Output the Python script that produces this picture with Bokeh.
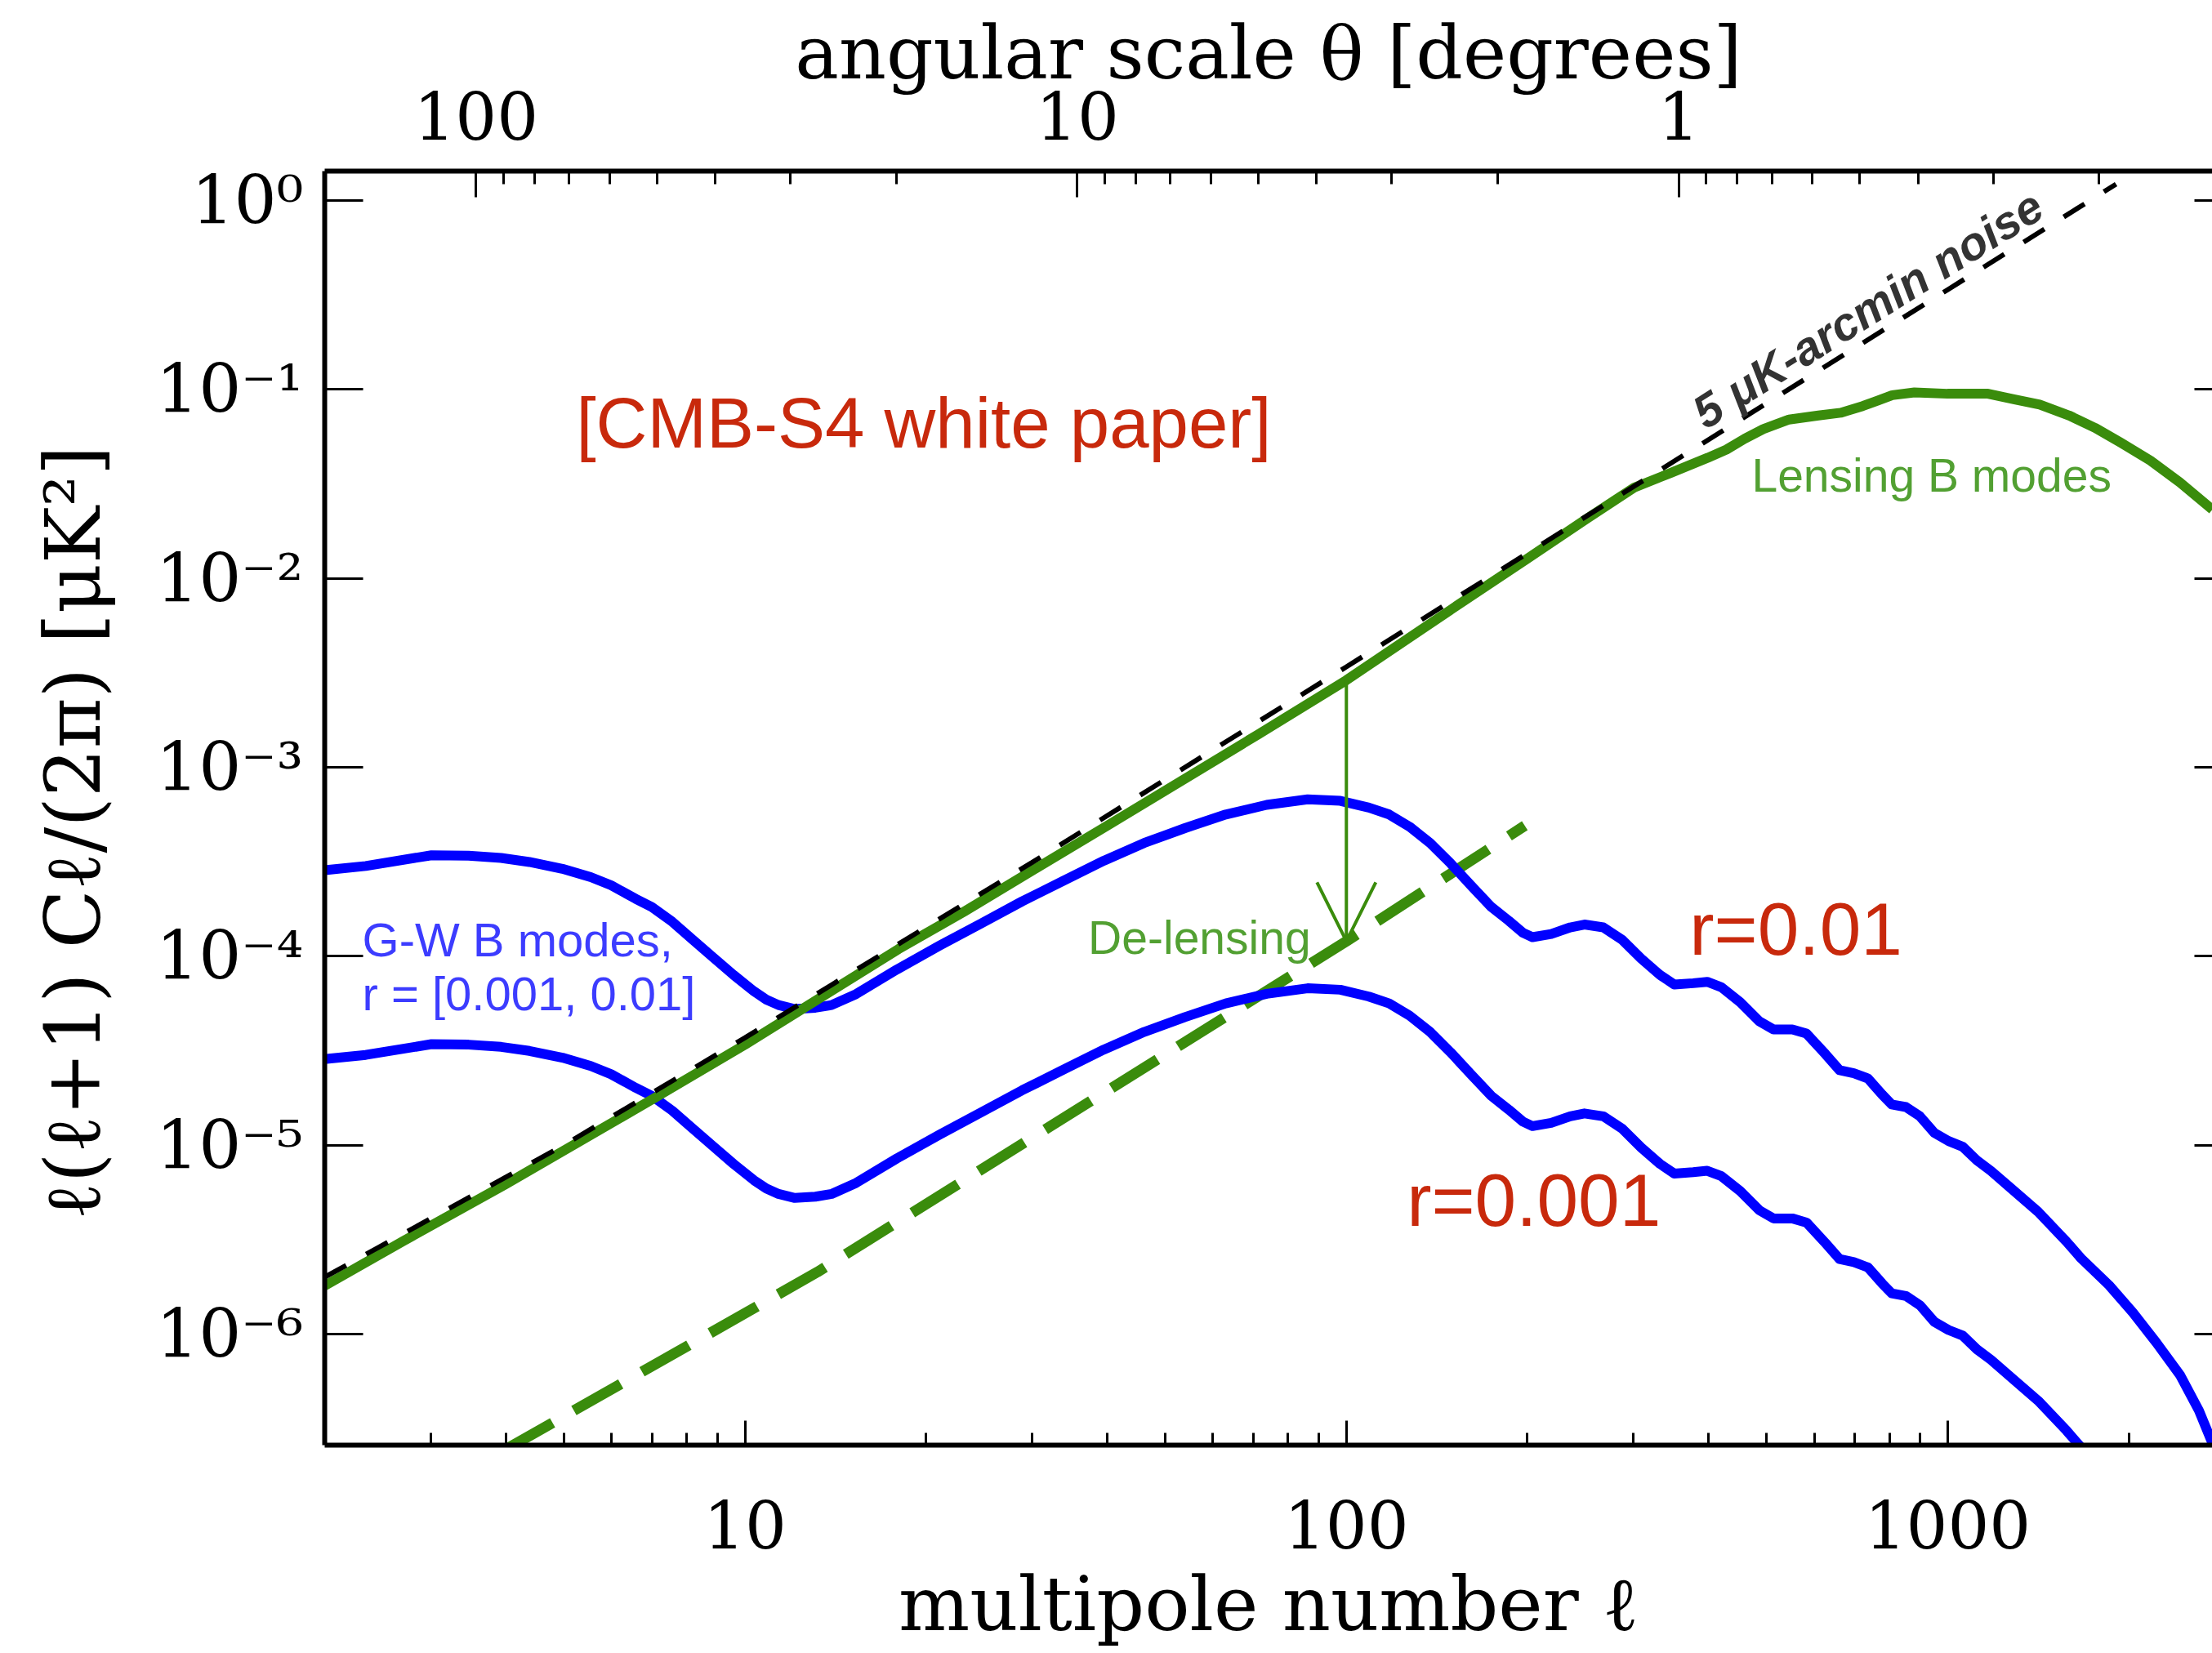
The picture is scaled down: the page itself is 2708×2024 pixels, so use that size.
from bokeh.plotting import figure
from bokeh.models import LogAxis, FixedTicker, Range1d, Arrow, OpenHead, Label
from bokeh.embed import file_html
from bokeh.resources import INLINE

# ---------------- data ----------------
# tensor (gravitational-wave) B modes, r = 0.01
ell_gw = [2.0, 2.34, 3.01, 3.47, 3.93, 4.38, 4.97, 5.54, 5.99, 6.58, 7.0, 7.57, 8.19, 8.85,
          9.57, 10.35, 10.85, 11.37, 12.1, 13.09, 13.93, 15.3, 17.88, 21.1, 24.7, 28.9,
          33.7, 39.5, 46.1, 53.9, 63.0, 73.7, 86.2, 97.7, 109, 117.8, 127.4, 137.8, 149,
          161.1, 174.2, 186.2, 196.6, 203.9, 219.1, 235.6, 248.8, 267.4, 287.5, 309.2,
          332.3, 351, 377.3, 398.2, 420.5, 451.9, 486, 513.2, 551.5, 582.3, 626.1, 661,
          698, 737, 778, 807, 852, 899, 950, 1003, 1059, 1118, 1180, 1269, 1414, 1576,
          1665, 1855, 2031, 2223, 2435, 2617, 2755]
gw_r01 = [2.85e-4, 3.0e-4, 3.42e-4, 3.40e-4, 3.31e-4, 3.15e-4, 2.90e-4, 2.62e-4, 2.37e-4,
          2.01e-4, 1.82e-4, 1.52e-4, 1.22e-4, 9.85e-5, 7.95e-5, 6.51e-5, 5.89e-5, 5.51e-5,
          5.25e-5, 5.33e-5, 5.51e-5, 6.3e-5, 8.49e-5, 1.14e-4, 1.49e-4, 1.95e-4, 2.49e-4,
          3.2e-4, 3.97e-4, 4.76e-4, 5.62e-4, 6.32e-4, 6.76e-4, 6.64e-4, 6.11e-4, 5.62e-4,
          4.84e-4, 3.97e-4, 3.1e-4, 2.37e-4, 1.82e-4, 1.54e-4, 1.33e-4, 1.26e-4, 1.31e-4,
          1.42e-4, 1.47e-4, 1.42e-4, 1.22e-4, 9.7e-5, 7.95e-5, 7.07e-5, 7.19e-5, 7.31e-5,
          6.84e-5, 5.7e-5, 4.52e-5, 4.09e-5, 4.09e-5, 3.89e-5, 3.03e-5, 2.49e-5, 2.40e-5,
          2.25e-5, 1.85e-5, 1.64e-5, 1.59e-5, 1.42e-5, 1.16e-5, 1.05e-5, 9.8e-6, 8.3e-6,
          7.3e-6, 5.97e-6, 4.43e-6, 3.08e-6, 2.52e-6, 1.81e-6, 1.30e-6, 9.0e-7, 6.05e-7,
          3.93e-7, 2.64e-7]

# tensor B modes, r = 0.001
ell_gw_low = [2.0, 2.34, 3.01, 3.47, 3.93, 4.38, 4.97, 5.54, 5.99, 6.58, 7.0, 7.57, 8.19,
              8.85, 9.57, 10.35, 10.85, 11.37, 12.1, 13.09, 13.93, 15.3, 17.88, 21.1, 24.7,
              28.9, 33.7, 39.5, 46.1, 53.9, 63.0, 73.7, 86.2, 97.7, 109, 117.8, 127.4, 137.8,
              149, 161.1, 174.2, 186.2, 196.6, 203.9, 219.1, 235.6, 248.8, 267.4, 287.5,
              309.2, 332.3, 351, 377.3, 398.2, 420.5, 451.9, 486, 513.2, 551.5, 582.3,
              626.1, 661, 698, 737, 778, 807, 852, 899, 950, 1003, 1059, 1118, 1180, 1269,
              1414, 1576, 1665, 1855]
gw_r001 = [2.85e-5, 3.0e-5, 3.42e-5, 3.40e-5, 3.31e-5, 3.15e-5, 2.90e-5, 2.62e-5, 2.37e-5,
           2.01e-5, 1.82e-5, 1.52e-5, 1.22e-5, 9.85e-6, 7.95e-6, 6.51e-6, 5.89e-6, 5.51e-6,
           5.25e-6, 5.33e-6, 5.51e-6, 6.3e-6, 8.49e-6, 1.14e-5, 1.49e-5, 1.95e-5, 2.49e-5,
           3.2e-5, 3.97e-5, 4.76e-5, 5.62e-5, 6.32e-5, 6.76e-5, 6.64e-5, 6.11e-5, 5.62e-5,
           4.84e-5, 3.97e-5, 3.1e-5, 2.37e-5, 1.82e-5, 1.54e-5, 1.33e-5, 1.26e-5, 1.31e-5,
           1.42e-5, 1.47e-5, 1.42e-5, 1.22e-5, 9.7e-6, 7.95e-6, 7.07e-6, 7.19e-6, 7.31e-6,
           6.84e-6, 5.7e-6, 4.52e-6, 4.09e-6, 4.09e-6, 3.89e-6, 3.03e-6, 2.49e-6, 2.40e-6,
           2.25e-6, 1.85e-6, 1.64e-6, 1.59e-6, 1.42e-6, 1.16e-6, 1.05e-6, 9.8e-7, 8.3e-7,
           7.3e-7, 5.97e-7, 4.43e-7, 3.08e-7, 2.52e-7, 1.81e-7]

# lensing B modes
ell_lens = [2, 2.7, 4, 7, 10, 18, 23.2, 40, 71.3, 100, 150, 200, 250, 301, 346.7, 399.2,
            428.5, 459.7, 493.5, 544.5, 609.5, 663.6, 722.2, 764.1, 808.5, 880, 999, 1167,
            1288, 1422, 1592, 1757, 1940, 2172, 2432, 2755]
lens_bb = [1.8e-6, 3.1e-6, 6.2e-6, 1.74e-5, 3.4e-5, 1.09e-4, 1.73e-4, 4.9e-4, 1.49e-3,
           2.89e-3, 6.9e-3, 1.27e-2, 2.05e-2, 3.02e-2, 3.62e-2, 4.35e-2, 4.8e-2, 5.48e-2,
           6.16e-2, 6.92e-2, 7.27e-2, 7.52e-2, 8.16e-2, 8.72e-2, 9.32e-2, 9.64e-2, 9.48e-2,
           9.48e-2, 8.87e-2, 8.3e-2, 7.27e-2, 6.26e-2, 5.22e-2, 4.2e-2, 3.22e-2, 2.31e-2]

# 5 uK-arcmin white noise
ell_noise = [2, 5, 10, 30, 100, 300, 1000, 1905]
noise_5uk = [2.0e-6, 1.0e-5, 3.7e-5, 3.13e-4, 3.4e-3, 3.05e-2, 0.337, 1.22]

# residual lensing after de-lensing
ell_delens = [4.0, 13.2, 100, 198]
delensed = [2.45e-7, 2.13e-6, 1.2e-4, 4.9e-4]

# de-lensing arrow (from lensing curve down to de-lensed curve at ell = 100)
arrow_ell = 100
arrow_from = 2.89e-3
arrow_to = 1.2e-4

# axes
x_ticks = [10, 100, 1000]
x_tick_labels = ["10", "100", "1000"]
x_minor = [3, 4, 5, 6, 7, 8, 9, 20, 30, 40, 50, 60, 70, 80, 90,
           200, 300, 400, 500, 600, 700, 800, 900, 2000]
y_ticks = [1e-6, 1e-5, 1e-4, 1e-3, 1e-2, 1e-1, 1.0]
y_tick_labels = ["10⁻⁶", "10⁻⁵", "10⁻⁴", "10⁻³", "10⁻²", "10⁻¹", "10⁰"]
theta_major = [100, 10, 1]
theta_labels = ["100", "10", "1"]
theta_minor = [90, 80, 70, 60, 50, 40, 30, 20, 9, 8, 7, 6, 5, 4, 3, 2,
               0.9, 0.8, 0.7, 0.6, 0.5, 0.4, 0.3, 0.2]
ELL_PER_DEGREE = 357.0   # ell corresponding to theta = 1 degree on the top axis

# ---------------- styling ----------------
GREEN = "#3a8c0c"
GREEN_TXT = "#52a032"
BLUE = "#0000ff"
BLUE_TXT = "#3c3cff"
RED = "#c8290c"
SERIF = "DejaVu Serif"
SANS = "Liberation Sans"

p = figure(width=2708, height=2024, x_axis_type="log", y_axis_type="log",
           x_range=Range1d(2.0, 2755), y_range=Range1d(2.58e-7, 1.43),
           output_backend="svg", toolbar_location=None,
           min_border_left=397, min_border_right=0, min_border_top=209,
           min_border_bottom=255)
p.outline_line_color = None
p.xgrid.visible = False
p.ygrid.visible = False
p.background_fill_color = "white"
p.border_fill_color = "white"


def style_axis(ax, tick_in, minor_in):
    ax.axis_line_width = 6
    ax.axis_line_color = "black"
    ax.major_tick_in = tick_in
    ax.major_tick_out = 0
    ax.minor_tick_in = minor_in
    ax.minor_tick_out = 0
    ax.major_tick_line_width = 3
    ax.minor_tick_line_width = 3
    ax.major_label_text_font = SERIF
    ax.major_label_text_color = "black"
    ax.axis_label_text_font = SERIF
    ax.axis_label_text_font_style = "normal"
    ax.axis_label_text_color = "black"


xa = p.xaxis[0]
xa.ticker = FixedTicker(ticks=x_ticks, minor_ticks=x_minor)
xa.major_label_overrides = dict(zip(x_ticks, x_tick_labels))
style_axis(xa, 30, 15)
xa.major_label_text_font_size = "80px"
xa.major_label_standoff = 67
xa.axis_label = "multipole number ℓ"
xa.axis_label_text_font_size = "92px"
xa.axis_label_standoff = 12

ya = p.yaxis[0]
ya.ticker = FixedTicker(ticks=y_ticks, minor_ticks=[])
ya.major_label_overrides = dict(zip(y_ticks, y_tick_labels))
style_axis(ya, 47, 0)
ya.major_label_text_font_size = "82px"
ya.major_label_standoff = 26
ya.axis_label = "ℓ(ℓ+1)  Cℓ/(2π)  [μK²]"
ya.axis_label_text_font_size = "94px"
ya.axis_label_standoff = 44

theta_tick_pos = [ELL_PER_DEGREE / t for t in theta_major]
theta_minor_pos = [ELL_PER_DEGREE / t for t in theta_minor]
top = LogAxis(ticker=FixedTicker(ticks=theta_tick_pos, minor_ticks=theta_minor_pos),
              major_label_overrides=dict(zip(theta_tick_pos, theta_labels)))
style_axis(top, 32, 16)
top.major_label_text_font_size = "80px"
top.major_label_standoff = 39
top.axis_label = "angular scale θ [degrees]"
top.axis_label_text_font_size = "90px"
top.axis_label_standoff = -8
p.add_layout(top, "above")

right = LogAxis(ticker=FixedTicker(ticks=y_ticks, minor_ticks=[]),
                major_label_overrides={t: "" for t in y_ticks})
right.axis_line_color = None
right.major_tick_in = 22
right.major_tick_out = 0
right.major_tick_line_width = 3
right.minor_tick_in = 0
right.minor_tick_out = 0
right.major_label_standoff = 0
right.major_label_text_font_size = "1px"
p.add_layout(right, "right")

# ---------------- curves ----------------
p.line(ell_delens, delensed, line_color=GREEN, line_width=13, line_dash="66 30")
p.line(ell_gw, gw_r01, line_color=BLUE, line_width=12, line_join="round")
p.line(ell_gw_low, gw_r001, line_color=BLUE, line_width=12, line_join="round")
p.line(ell_lens, lens_bb, line_color=GREEN, line_width=12, line_join="round")
p.line(ell_noise, noise_5uk, line_color="black", line_width=6, line_dash="30 28")

p.add_layout(Arrow(x_start=arrow_ell, y_start=arrow_from, x_end=arrow_ell, y_end=arrow_to,
                   line_color=GREEN, line_width=4,
                   end=OpenHead(size=72, line_color=GREEN, line_width=4)))

# ---------------- annotations ----------------
def lab(x, y, text, color, size, font=SANS, style="normal", angle=0.0):
    p.add_layout(Label(x=x, y=y, text=text, text_color=color, text_font=font,
                       text_font_size=size, text_font_style=style,
                       text_baseline="alphabetic", text_align="left",
                       angle=angle, angle_units="rad"))


lab(5.24, 0.0667, "[CMB-S4 white paper]", RED, "87px")
lab(372, 1.39e-4, "r=0.01", RED, "91px")
lab(126, 5.1e-6, "r=0.001", RED, "91px")
lab(2.31, 1.22e-4, "G-W B modes,", BLUE_TXT, "58px")
lab(2.31, 6.35e-5, "r = [0.001, 0.01]", BLUE_TXT, "58px")
lab(37.2, 1.25e-4, "De-lensing", GREEN_TXT, "57px")
lab(472, 0.035, "Lensing B modes", GREEN_TXT, "57px")
lab(383, 0.072, "5 μK-arcmin noise", "#333333", "57px", style="bold italic", angle=0.562)

open("out.html", "w").write(file_html(p, INLINE))
